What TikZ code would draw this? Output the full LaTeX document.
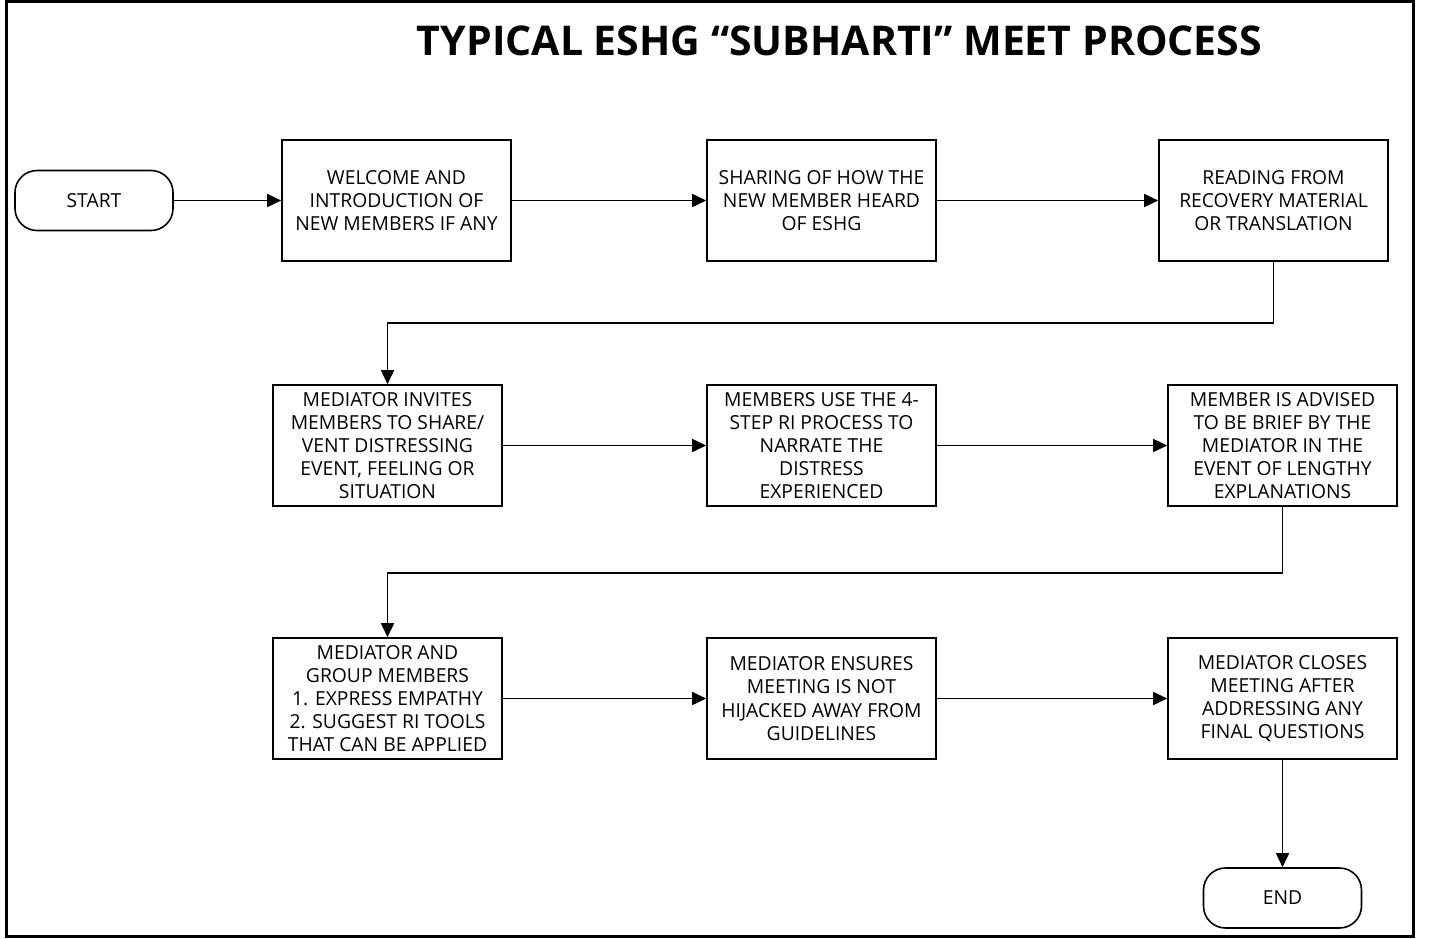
\documentclass[tikz,border=0pt]{standalone}
\usepackage{fontspec}
\setmainfont{Open Sans}
\usetikzlibrary{arrows.meta}
\begin{document}
\begin{tikzpicture}[x=1pt,y=-1pt,
  proc/.style={draw, line width=1.6pt, minimum width=229pt, minimum height=121pt, align=center, font=\fontsize{19.3}{23.2}\selectfont, inner sep=0pt},
  term/.style={draw, line width=1.6pt, rounded corners=22pt, minimum width=158pt, minimum height=60pt, font=\fontsize{19.3}{23.2}\selectfont},
  conn/.style={line width=1.6pt, -{Triangle[length=14pt,width=13pt]}}]
\useasboundingbox (0,0) rectangle (1430,938);
\draw[line width=3pt] (6,1.5) rectangle (1413,936);
\node[font=\bfseries\fontsize{41}{46}\selectfont] (title) at (839.5,41) {TYPICAL ESHG “SUBHARTI” MEET PROCESS};
\node[term] (start) at (94,200.5) {START};
\node[proc] (b1) at (396.5,200.5) {WELCOME AND\\INTRODUCTION OF\\NEW MEMBERS IF ANY};
\node[proc] (b2) at (821.5,200.5) {SHARING OF HOW THE\\NEW MEMBER HEARD\\OF ESHG};
\node[proc] (b3) at (1273.5,200.5) {READING FROM\\RECOVERY MATERIAL\\OR TRANSLATION};
\node[proc] (b4) at (387.5,445.5) {MEDIATOR INVITES\\MEMBERS TO SHARE/\\VENT DISTRESSING\\EVENT, FEELING OR\\SITUATION};
\node[proc] (b5) at (821.5,445.5) {MEMBERS USE THE 4-\\STEP RI PROCESS TO\\NARRATE THE\\DISTRESS\\EXPERIENCED};
\node[proc] (b6) at (1282.5,445.5) {MEMBER IS ADVISED\\TO BE BRIEF BY THE\\MEDIATOR IN THE\\EVENT OF LENGTHY\\EXPLANATIONS};
\node[proc] (b7) at (387.5,698.5) {MEDIATOR AND\\GROUP MEMBERS\\1. EXPRESS EMPATHY\\2. SUGGEST RI TOOLS\\THAT CAN BE APPLIED};
\node[proc] (b8) at (821.5,698.5) {MEDIATOR ENSURES\\MEETING IS NOT\\HIJACKED AWAY FROM\\GUIDELINES};
\node[proc] (b9) at (1282.5,698.5) {MEDIATOR CLOSES\\MEETING AFTER\\ADDRESSING ANY\\FINAL QUESTIONS};
\node[term] (end) at (1282.5,898) {END};
\draw[conn] (start) -- (b1);
\draw[conn] (b1) -- (b2);
\draw[conn] (b2) -- (b3);
\draw[conn] (b3.south) |- (387.5,323) -- (b4.north);
\draw[conn] (b4) -- (b5);
\draw[conn] (b5) -- (b6);
\draw[conn] (b6.south) |- (387.5,573) -- (b7.north);
\draw[conn] (b7) -- (b8);
\draw[conn] (b8) -- (b9);
\draw[conn] (b9) -- (end);
\end{tikzpicture}
\end{document}
